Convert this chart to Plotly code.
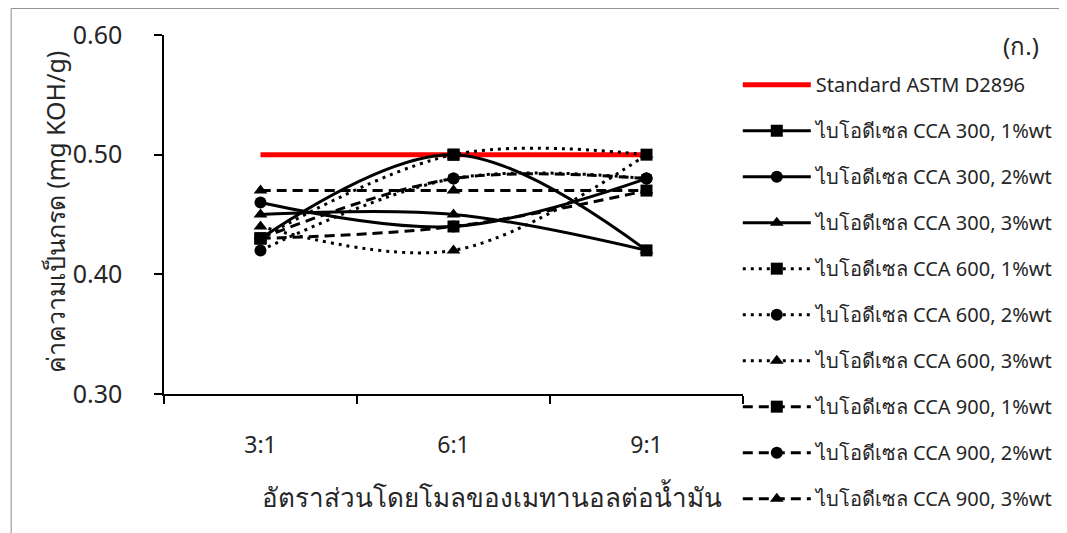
import plotly.graph_objects as go

categories = ["3:1", "6:1", "9:1"]
standard = [0.50, 0.50, 0.50]
cca300_1 = [0.43, 0.50, 0.42]
cca300_2 = [0.46, 0.44, 0.48]
cca300_3 = [0.45, 0.45, 0.42]
cca600_1 = [0.43, 0.50, 0.50]
cca600_2 = [0.42, 0.48, 0.48]
cca600_3 = [0.44, 0.42, 0.50]
cca900_1 = [0.43, 0.44, 0.47]
cca900_2 = [0.43, 0.48, 0.48]
cca900_3 = [0.47, 0.47, 0.47]
yticks = [0.30, 0.40, 0.50, 0.60]
ytick_text = ["0.30", "0.40", "0.50", "0.60"]

FONT = "Noto Sans, Tahoma, sans-serif"
TXT = "#262626"

fig = go.Figure()
fig.add_trace(go.Scatter(x=categories, y=standard, mode="lines", name="Standard ASTM D2896",
                         line=dict(color="#ff0000", width=5), legendgroup="g0"))

series = [
    ("ไบโอดีเซล CCA 300, 1%wt", cca300_1, "solid", "square"),
    ("ไบโอดีเซล CCA 300, 2%wt", cca300_2, "solid", "circle"),
    ("ไบโอดีเซล CCA 300, 3%wt", cca300_3, "solid", "triangle-up"),
    ("ไบโอดีเซล CCA 600, 1%wt", cca600_1, "3px,5px", "square"),
    ("ไบโอดีเซล CCA 600, 2%wt", cca600_2, "3px,5px", "circle"),
    ("ไบโอดีเซล CCA 600, 3%wt", cca600_3, "3px,5px", "triangle-up"),
    ("ไบโอดีเซล CCA 900, 1%wt", cca900_1, "10px,6px", "square"),
    ("ไบโอดีเซล CCA 900, 2%wt", cca900_2, "10px,6px", "circle"),
    ("ไบโอดีเซล CCA 900, 3%wt", cca900_3, "10px,6px", "triangle-up"),
]
for i, (name, vals, dash, sym) in enumerate(series):
    fig.add_trace(go.Scatter(
        x=categories, y=vals, mode="lines+markers", name=name,
        line=dict(color="black", width=3, dash=dash, shape="spline", smoothing=1.0),
        marker=dict(symbol=sym, size=12, color="black"),
        legendgroup="g%d" % (i + 1)))

fig.update_layout(
    width=1067, height=533,
    margin=dict(l=156, r=332, t=27, b=147, autoexpand=False),
    paper_bgcolor="white", plot_bgcolor="white",
    font=dict(family=FONT, color=TXT),
    showlegend=True,
    legend=dict(x=0.991, xanchor="left", y=0.916, yanchor="top", itemwidth=68,
                font=dict(size=20, color=TXT, family=FONT), maxheight=520,
                tracegroupgap=17, bgcolor="rgba(0,0,0,0)"),
    xaxis=dict(type="category", range=[-0.5, 2.5], showgrid=False, showline=True,
               linecolor="black", linewidth=1.5,
               ticks="outside", ticklen=8, tickcolor="black", tickwidth=1.5, tickson="boundaries",
               tickfont=dict(size=23, color=TXT), ticklabelstandoff=30, zeroline=False),
    yaxis=dict(range=[0.30, 0.60], tickvals=yticks, ticktext=ytick_text, showgrid=False,
               showline=True, linecolor="black", linewidth=1.5, ticks="outside", ticklen=8,
               tickcolor="black", tickwidth=1.5, tickfont=dict(size=25, color=TXT), zeroline=False,
               ticklabelstandoff=27),
)

fig.add_annotation(text="ค่าความเป็นกรด (mg KOH/g)", xref="paper", yref="paper",
                   x=-0.188, y=0.507, textangle=-90, showarrow=False,
                   font=dict(size=25, color=TXT), xanchor="center", yanchor="middle")
fig.add_annotation(text="อัตราส่วนโดยโมลของเมทานอลต่อน้ำมัน", xref="paper", yref="paper",
                   x=0.5665, y=-0.287, showarrow=False, font=dict(size=26, color=TXT),
                   xanchor="center", yanchor="middle")
fig.add_annotation(text="(ก.)", xref="paper", yref="paper", x=1.48, y=0.972, showarrow=False,
                   font=dict(size=24, color=TXT), xanchor="center", yanchor="middle")
fig.add_shape(type="rect", xref="paper", yref="paper", x0=-0.264, x1=1.62, y0=-0.45, y1=1.074,
              line=dict(color="#8c8c8c", width=1), fillcolor="rgba(0,0,0,0)", layer="below")

fig.write_html("out.html")
